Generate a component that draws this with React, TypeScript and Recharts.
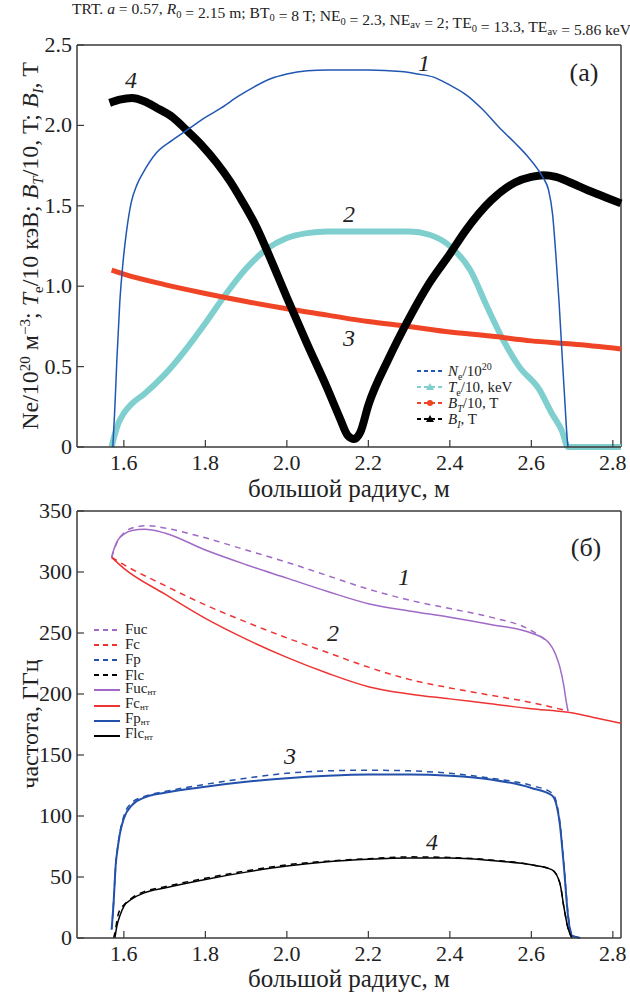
import React from "react";
import { LineChart, Line, XAxis, YAxis, ReferenceLine, Legend } from "recharts";

const FONT = '"Liberation Serif", "Times New Roman", serif';
const AXIS = "#3a3a3a";

const xTicks = [1.6, 1.8, 2.0, 2.2, 2.4, 2.6, 2.8];
const xDomain: [number, number] = [1.485, 2.82];
const topYTicks = [0, 0.5, 1.0, 1.5, 2.0, 2.5];
const bottomYTicks = [0, 50, 100, 150, 200, 250, 300, 350];

// (a) profiles vs major radius, [R, value]
const neProfile = [
  [1.573, 0], [1.578, 0.25], [1.583, 0.55], [1.59, 0.9], [1.598, 1.15], [1.607, 1.35],
  [1.618, 1.52], [1.632, 1.63], [1.646, 1.7], [1.68, 1.83], [1.72, 1.91], [1.76, 1.98],
  [1.8, 2.05], [1.84, 2.11], [1.88, 2.18], [1.92, 2.24], [1.96, 2.29], [2.0, 2.32],
  [2.05, 2.34], [2.1, 2.345], [2.2, 2.345], [2.28, 2.335], [2.32, 2.32], [2.36, 2.3],
  [2.4, 2.25], [2.44, 2.19], [2.48, 2.1], [2.52, 1.99], [2.56, 1.89], [2.59, 1.81],
  [2.615, 1.73], [2.63, 1.67], [2.642, 1.6], [2.652, 1.45], [2.66, 1.2], [2.668, 0.9],
  [2.676, 0.55], [2.683, 0.25], [2.688, 0.05], [2.69, 0],
];
const teProfile = [
  [1.57, 0], [1.578, 0.08], [1.587, 0.15], [1.6, 0.21], [1.62, 0.27], [1.65, 0.33],
  [1.7, 0.45], [1.75, 0.6], [1.8, 0.77], [1.85, 0.95], [1.9, 1.11], [1.95, 1.23],
  [2.0, 1.3], [2.05, 1.33], [2.1, 1.34], [2.3, 1.34], [2.35, 1.32], [2.4, 1.25],
  [2.45, 1.1], [2.49, 0.88], [2.53, 0.67], [2.57, 0.5], [2.62, 0.355], [2.65, 0.21],
  [2.675, 0.1], [2.69, 0], [2.82, 0],
];
const btProfile = [
  [1.57, 1.1], [1.6, 1.075], [1.7, 1.01], [1.8, 0.955], [1.9, 0.905], [2.0, 0.86],
  [2.1, 0.82], [2.2, 0.78], [2.3, 0.75], [2.4, 0.715], [2.5, 0.69], [2.6, 0.66],
  [2.7, 0.64], [2.82, 0.61],
];
const biProfile = [
  [1.565, 2.14], [1.59, 2.16], [1.62, 2.17], [1.65, 2.15], [1.68, 2.11], [1.72, 2.05],
  [1.754, 1.97], [1.79, 1.88], [1.827, 1.77], [1.86, 1.655], [1.89, 1.53], [1.925, 1.37],
  [1.96, 1.17], [2.0, 0.93], [2.05, 0.64], [2.1, 0.36], [2.13, 0.18], [2.15, 0.07],
  [2.165, 0.05], [2.18, 0.09], [2.2, 0.26], [2.25, 0.55], [2.3, 0.8], [2.35, 1.02],
  [2.4, 1.2], [2.44, 1.35], [2.5, 1.53], [2.56, 1.645], [2.6, 1.68], [2.63, 1.69],
  [2.66, 1.68], [2.7, 1.64], [2.74, 1.595], [2.78, 1.555], [2.82, 1.515],
];

// (б) frequencies, GHz
const fuc = [
  [1.57, 312], [1.58, 322], [1.6, 332], [1.63, 337], [1.66, 338], [1.7, 336], [1.8, 328],
  [1.9, 318], [2.0, 308], [2.1, 297], [2.2, 286], [2.3, 277], [2.4, 270], [2.5, 263],
  [2.6, 252], [2.64, 243],
];
const fc = [
  [1.57, 312], [1.6, 306], [1.7, 289], [1.8, 273], [1.9, 259], [2.0, 246], [2.1, 234],
  [2.2, 222], [2.3, 212], [2.4, 205], [2.5, 199], [2.6, 193], [2.69, 186],
];
const fp = [
  [1.57, 7], [1.575, 30], [1.58, 60], [1.585, 75], [1.59, 86], [1.6, 100], [1.62, 111],
  [1.65, 116], [1.7, 120], [1.8, 126], [1.9, 131], [2.0, 135], [2.1, 137], [2.2, 137.5],
  [2.3, 137], [2.4, 135], [2.5, 131], [2.6, 125], [2.65, 119], [2.66, 113], [2.67, 95],
  [2.68, 60], [2.69, 20], [2.7, 3], [2.72, 0],
];
const flc = [
  [1.575, 0], [1.58, 8], [1.585, 18], [1.59, 23], [1.6, 27], [1.62, 33], [1.65, 38],
  [1.7, 42], [1.8, 49], [1.9, 55], [2.0, 60], [2.1, 63], [2.2, 65], [2.3, 66.5],
  [2.4, 66], [2.5, 64], [2.6, 60], [2.65, 56], [2.67, 45], [2.68, 25], [2.69, 8], [2.7, 0],
];
const fucHt = [
  [1.57, 312], [1.575, 318], [1.585, 326], [1.6, 331], [1.62, 334], [1.65, 335], [1.7, 332],
  [1.8, 318], [1.9, 306], [2.0, 295], [2.1, 284], [2.2, 274], [2.3, 268], [2.4, 263],
  [2.5, 257], [2.6, 250], [2.64, 243], [2.66, 232], [2.67, 222], [2.68, 206], [2.685, 195],
  [2.69, 186],
];
const fcHt = [
  [1.57, 312], [1.6, 303], [1.7, 282], [1.8, 262], [1.9, 245], [2.0, 230], [2.1, 217],
  [2.2, 206], [2.3, 200], [2.4, 196], [2.5, 192], [2.6, 188], [2.69, 185], [2.75, 181],
  [2.82, 176],
];
const fpHt = [
  [1.57, 7], [1.575, 30], [1.58, 60], [1.585, 74], [1.59, 85], [1.6, 98], [1.62, 109],
  [1.65, 115], [1.7, 119], [1.8, 124], [1.9, 128], [2.0, 131], [2.1, 133], [2.2, 134],
  [2.3, 134], [2.4, 133], [2.5, 130], [2.6, 123], [2.65, 117], [2.66, 111], [2.67, 93],
  [2.68, 58], [2.69, 18], [2.7, 2], [2.72, 0],
];
const flcHt = [
  [1.578, 0], [1.583, 10], [1.59, 18], [1.6, 26], [1.62, 32], [1.65, 37], [1.7, 41],
  [1.8, 48], [1.9, 54], [2.0, 59], [2.1, 62.5], [2.2, 64.5], [2.3, 65.5], [2.4, 65.5],
  [2.5, 63.5], [2.6, 60], [2.65, 56], [2.67, 45], [2.68, 25], [2.69, 8], [2.7, 0],
];

const pts = (arr: number[][]) => arr.map(([x, y]) => ({ x, y }));

const BLUE = "#2157b3";
const CYAN = "#7fcfcf";
const RED = "#ef4526";
const PURPLE = "#a06ac6";
const RED2 = "#ee3333";
const BLUE2 = "#2350aa";

const TICK_FS = 22;

const XTick = (props: any) => {
  const { x, y, payload } = props;
  return (
    <g>
      <line x1={x} y1={y} x2={x} y2={y - 7} stroke={AXIS} strokeWidth={1.2} />
      <text x={x} y={y + 23} textAnchor="middle" fontFamily={FONT} fontSize={TICK_FS} fill="#222">
        {Number(payload.value).toFixed(1)}
      </text>
    </g>
  );
};

const makeYTick = (fmt: (v: number) => string) => (props: any) => {
  const { x, y, payload } = props;
  return (
    <g>
      <line x1={x} y1={y} x2={x + 7} y2={y} stroke={AXIS} strokeWidth={1.2} />
      <text x={x - 5} y={y + 7} textAnchor="end" fontFamily={FONT} fontSize={TICK_FS} fill="#222">
        {fmt(payload.value)}
      </text>
    </g>
  );
};

const topYTick = makeYTick((v) => (v === 0 ? "0" : v.toFixed(1)));
const bottomYTick = makeYTick((v) => String(v));

const Marker = ({ kind, color }: { kind?: string; color: string }) => {
  if (kind === "tri") return <polygon points="13,1 17,8 9,8" fill={color} />;
  if (kind === "circle") return <circle cx={13} cy={5} r={3} fill={color} />;
  return null;
};

const subS = { fontSize: 10, lineHeight: 0 };
const topLegend = [
  { color: BLUE, marker: undefined, label: <><i>N</i><sub style={subS}>e</sub>/10<sup style={subS}>20</sup></> },
  { color: CYAN, marker: "tri", label: <><i>T</i><sub style={subS}>e</sub>/10, keV</> },
  { color: RED, marker: "circle", label: <><i>B</i><sub style={subS}><i>T</i></sub>/10, T</> },
  { color: "#000", marker: "tri", label: <><i>B</i><sub style={subS}><i>I</i></sub>, T</> },
];

const TopLegendContent = () => (
  <div style={{ fontFamily: FONT, fontSize: 15, color: "#222" }}>
    {topLegend.map((it, i) => (
      <div key={i} style={{ height: 16, display: "flex", alignItems: "center", whiteSpace: "nowrap" }}>
        <svg width={26} height={10} style={{ marginRight: 5 }}>
          <line x1={0} y1={5} x2={26} y2={5} stroke={it.color} strokeWidth={2} strokeDasharray="4 3" />
          <Marker kind={it.marker} color={it.color} />
        </svg>
        <span style={{ lineHeight: "14px" }}>{it.label}</span>
      </div>
    ))}
  </div>
);

const bottomLegend = [
  { color: PURPLE, dashed: true, name: "Fuc", sub: "" },
  { color: RED2, dashed: true, name: "Fc", sub: "" },
  { color: BLUE2, dashed: true, name: "Fp", sub: "" },
  { color: "#000", dashed: true, name: "Flc", sub: "" },
  { color: PURPLE, dashed: false, name: "Fuc", sub: "нт" },
  { color: RED2, dashed: false, name: "Fc", sub: "нт" },
  { color: BLUE2, dashed: false, name: "Fp", sub: "нт" },
  { color: "#000", dashed: false, name: "Flc", sub: "нт" },
];

const BottomLegendContent = () => (
  <div style={{ fontFamily: FONT, fontSize: 15, color: "#222" }}>
    {bottomLegend.map((it, i) => (
      <div key={i} style={{ height: 15.2, display: "flex", alignItems: "center", whiteSpace: "nowrap" }}>
        <svg width={26} height={8} style={{ marginRight: 5 }}>
          <line x1={0} y1={4} x2={26} y2={4} stroke={it.color} strokeWidth={2}
            strokeDasharray={it.dashed ? "5 4" : undefined} />
        </svg>
        <span style={{ lineHeight: "13px" }}>
          {it.name}
          {it.sub && <span style={{ fontSize: 9, verticalAlign: -2 }}>{it.sub}</span>}
        </span>
      </div>
    ))}
  </div>
);

const Sub = ({ children }: { children: string }) => (
  <>
    <tspan dy={3.5} fontSize={10.5}>{children}</tspan>
    <tspan dy={-3.5}>{""}</tspan>
  </>
);

export default function App() {
  return (
    <div style={{ position: "absolute", left: 0, top: 0, width: 630, height: 995, background: "#fff", overflow: "hidden" }}>
      {/* (a) */}
      <div style={{ position: "absolute", left: 0, top: 0 }}>
        <LineChart width={630} height={480} margin={{ top: 45, right: 9, left: 0, bottom: 0 }}>
          <XAxis dataKey="x" type="number" domain={xDomain} ticks={xTicks} height={33}
            tickSize={0} tickMargin={0} tickLine={false} tick={<XTick />}
            axisLine={{ stroke: AXIS, strokeWidth: 1.5 }} />
          <YAxis type="number" domain={[0, 2.5]} ticks={topYTicks} width={77}
            tickSize={0} tickMargin={0} tickLine={false} tick={topYTick}
            axisLine={{ stroke: AXIS, strokeWidth: 1.5 }} />
          <ReferenceLine y={2.5} stroke={AXIS} strokeWidth={1.5} />
          <ReferenceLine x={2.82} stroke={AXIS} strokeWidth={1.5} />
          <Legend verticalAlign="middle" align="center" content={<TopLegendContent />}
            wrapperStyle={{ position: "absolute", left: 417, top: 363, width: 200, height: 66 }} />
          <Line data={pts(teProfile)} dataKey="y" name="Te" type="monotone" stroke={CYAN}
            strokeWidth={6} dot={false} isAnimationActive={false} />
          <Line data={pts(btProfile)} dataKey="y" name="BT" type="monotone" stroke={RED}
            strokeWidth={5} dot={false} isAnimationActive={false} />
          <Line data={pts(biProfile)} dataKey="y" name="BI" type="monotone" stroke="#000"
            strokeWidth={8} dot={false} isAnimationActive={false} />
          <Line data={pts(neProfile)} dataKey="y" name="Ne" type="monotone" stroke={BLUE}
            strokeWidth={1.5} dot={false} isAnimationActive={false} />
        </LineChart>
      </div>

      {/* (б) */}
      <div style={{ position: "absolute", left: 0, top: 480 }}>
        <LineChart width={630} height={515} margin={{ top: 31, right: 9, left: 0, bottom: 0 }}>
          <XAxis dataKey="x" type="number" domain={xDomain} ticks={xTicks} height={57}
            tickSize={0} tickMargin={0} tickLine={false} tick={<XTick />}
            axisLine={{ stroke: AXIS, strokeWidth: 1.5 }} />
          <YAxis type="number" domain={[0, 350]} ticks={bottomYTicks} width={77}
            tickSize={0} tickMargin={0} tickLine={false} tick={bottomYTick}
            axisLine={{ stroke: AXIS, strokeWidth: 1.5 }} />
          <ReferenceLine y={350} stroke={AXIS} strokeWidth={1.5} />
          <ReferenceLine x={2.82} stroke={AXIS} strokeWidth={1.5} />
          <Legend verticalAlign="middle" align="center" content={<BottomLegendContent />}
            wrapperStyle={{ position: "absolute", left: 94, top: 142, width: 120, height: 124 }} />
          <Line data={pts(fuc)} dataKey="y" name="Fuc" type="monotone" stroke={PURPLE}
            strokeWidth={1.5} strokeDasharray="6 5" dot={false} isAnimationActive={false} />
          <Line data={pts(fc)} dataKey="y" name="Fc" type="monotone" stroke={RED2}
            strokeWidth={1.5} strokeDasharray="6 5" dot={false} isAnimationActive={false} />
          <Line data={pts(fp)} dataKey="y" name="Fp" type="monotone" stroke={BLUE2}
            strokeWidth={1.5} strokeDasharray="6 5" dot={false} isAnimationActive={false} />
          <Line data={pts(flc)} dataKey="y" name="Flc" type="monotone" stroke="#000"
            strokeWidth={1.5} strokeDasharray="6 5" dot={false} isAnimationActive={false} />
          <Line data={pts(fucHt)} dataKey="y" name="Fuc нт" type="monotone" stroke={PURPLE}
            strokeWidth={1.5} dot={false} isAnimationActive={false} />
          <Line data={pts(fcHt)} dataKey="y" name="Fc нт" type="monotone" stroke={RED2}
            strokeWidth={1.5} dot={false} isAnimationActive={false} />
          <Line data={pts(fpHt)} dataKey="y" name="Fp нт" type="monotone" stroke={BLUE2}
            strokeWidth={2} dot={false} isAnimationActive={false} />
          <Line data={pts(flcHt)} dataKey="y" name="Flc нт" type="monotone" stroke="#000"
            strokeWidth={1.5} dot={false} isAnimationActive={false} />
        </LineChart>
      </div>

      {/* text annotations */}
      <svg width={630} height={995} style={{ position: "absolute", left: 0, top: 0, pointerEvents: "none" }}
        fontFamily={FONT} fill="#222">
        <text x={72} y={14} fontSize={15.6}>
          TRT. <tspan fontStyle="italic">a</tspan> = 0.57, <tspan fontStyle="italic">R</tspan>
          <Sub>0</Sub> = 2.15 m; BT<Sub>0</Sub> = 8 T; NE<Sub>0</Sub> = 2.3, NE<Sub>av</Sub> = 2;
          TE<Sub>0</Sub> = 13.3, TE<Sub>av</Sub> = 5.86 keV
        </text>

        <text transform="translate(38,246) rotate(-90)" textAnchor="middle" fontSize={24}>
          Ne/10<tspan dy={-8} fontSize={15}>20</tspan><tspan dy={8}> м</tspan>
          <tspan dy={-8} fontSize={15}>−3</tspan><tspan dy={8}>; </tspan>
          <tspan fontStyle="italic">T</tspan><tspan dy={5} fontSize={15}>e</tspan>
          <tspan dy={-5}>/10 кэВ; </tspan>
          <tspan fontStyle="italic">B</tspan><tspan dy={5} fontSize={15} fontStyle="italic">T</tspan>
          <tspan dy={-5}>/10, T; </tspan>
          <tspan fontStyle="italic">B</tspan><tspan dy={5} fontSize={15} fontStyle="italic">I</tspan>
          <tspan dy={-5}>, T</tspan>
        </text>
        <text transform="translate(38,724) rotate(-90)" textAnchor="middle" fontSize={24}>
          частота, ГГц
        </text>

        <text x={349} y={497} textAnchor="middle" fontSize={25}>большой радиус, м</text>
        <text x={349} y={987} textAnchor="middle" fontSize={25}>большой радиус, м</text>

        <g fontSize={24} fontStyle="italic" textAnchor="middle">
          <text x={424} y={71}>1</text>
          <text x={349} y={222}>2</text>
          <text x={349} y={346}>3</text>
          <text x={131} y={88}>4</text>
          <text x={404} y={585}>1</text>
          <text x={333} y={641}>2</text>
          <text x={290} y={764}>3</text>
          <text x={432} y={850}>4</text>
        </g>
        <text x={584} y={81} textAnchor="middle" fontSize={26}>(a)</text>
        <text x={586} y={556} textAnchor="middle" fontSize={26}>(б)</text>
      </svg>
    </div>
  );
}
